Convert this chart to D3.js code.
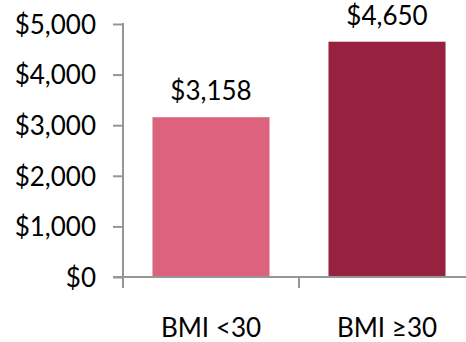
<!DOCTYPE html>
<html>
<head>
<meta charset="utf-8">
<script src="https://cdn.jsdelivr.net/npm/d3@7/dist/d3.min.js"></script>
<style>
  html, body { margin: 0; padding: 0; background: #fff; }
  svg { display: block; }
  text { font-family: Lato, "Noto Sans", sans-serif; fill: #000; }
</style>
</head>
<body>
<svg id="chart" width="466" height="342"></svg>
<script>
// Average cost by BMI group
const categories = ["BMI <30", "BMI \u226530"];
const costs = [3158, 4650];
const barColors = ["#DC627E", "#97223F"];
const yTicks = [0, 1000, 2000, 3000, 4000, 5000];

const svg = d3.select("#chart");
const axisColor = "#969696";
const fontSize = 26;
const x0 = 123, x1 = 475, yTop = 24, yBase = 277;

const y = d3.scaleLinear().domain([0, 5000]).range([yBase, yTop]);
const x = d3.scaleBand().domain(categories).range([x0, x1])
  .paddingInner(0.335).paddingOuter(0.1675);

const money = v => "$" + d3.format(",")(v);

// bars
svg.selectAll("rect.bar").data(costs).join("rect")
  .attr("class", "bar")
  .attr("x", (d, i) => x(categories[i]))
  .attr("width", x.bandwidth())
  .attr("y", d => y(d))
  .attr("height", d => yBase - y(d))
  .attr("fill", (d, i) => barColors[i]);

// value labels
svg.selectAll("text.val").data(costs).join("text")
  .attr("class", "val")
  .attr("x", (d, i) => x(categories[i]) + x.bandwidth() / 2)
  .attr("y", d => y(d) - 17)
  .attr("text-anchor", "middle")
  .attr("font-size", fontSize)
  .text(d => money(d));

// y axis
const yAxis = d3.axisLeft(y).tickValues(yTicks).tickFormat(money)
  .tickSize(10).tickPadding(17);
const gy = svg.append("g").attr("transform", `translate(${x0},0)`).call(yAxis);
gy.select(".domain").remove();
gy.selectAll(".tick line").attr("stroke", axisColor).attr("stroke-width", 2);
gy.selectAll(".tick text").attr("font-size", fontSize).attr("font-family", "Lato, 'Noto Sans', sans-serif")
  .attr("fill", "#000").attr("dy", "0.36em");
svg.append("line").attr("x1", x0).attr("x2", x0).attr("y1", yTop - 1).attr("y2", yBase + 11)
  .attr("stroke", axisColor).attr("stroke-width", 2);

// x axis
svg.append("line").attr("x1", x0 - 10).attr("x2", 466).attr("y1", yBase).attr("y2", yBase)
  .attr("stroke", axisColor).attr("stroke-width", 2);
const boundaries = categories.map(c => x(c) - x.step() * x.paddingInner() / 2);
svg.selectAll("line.xt").data(boundaries.slice(1)).join("line")
  .attr("class", "xt")
  .attr("x1", d => d).attr("x2", d => d)
  .attr("y1", yBase).attr("y2", yBase + 11)
  .attr("stroke", axisColor).attr("stroke-width", 2);

svg.selectAll("text.cat").data(categories).join("text")
  .attr("class", "cat")
  .attr("x", d => x(d) + x.bandwidth() / 2)
  .attr("y", 337)
  .attr("text-anchor", "middle")
  .attr("font-size", fontSize)
  .text(d => d);
</script>
</body>
</html>
